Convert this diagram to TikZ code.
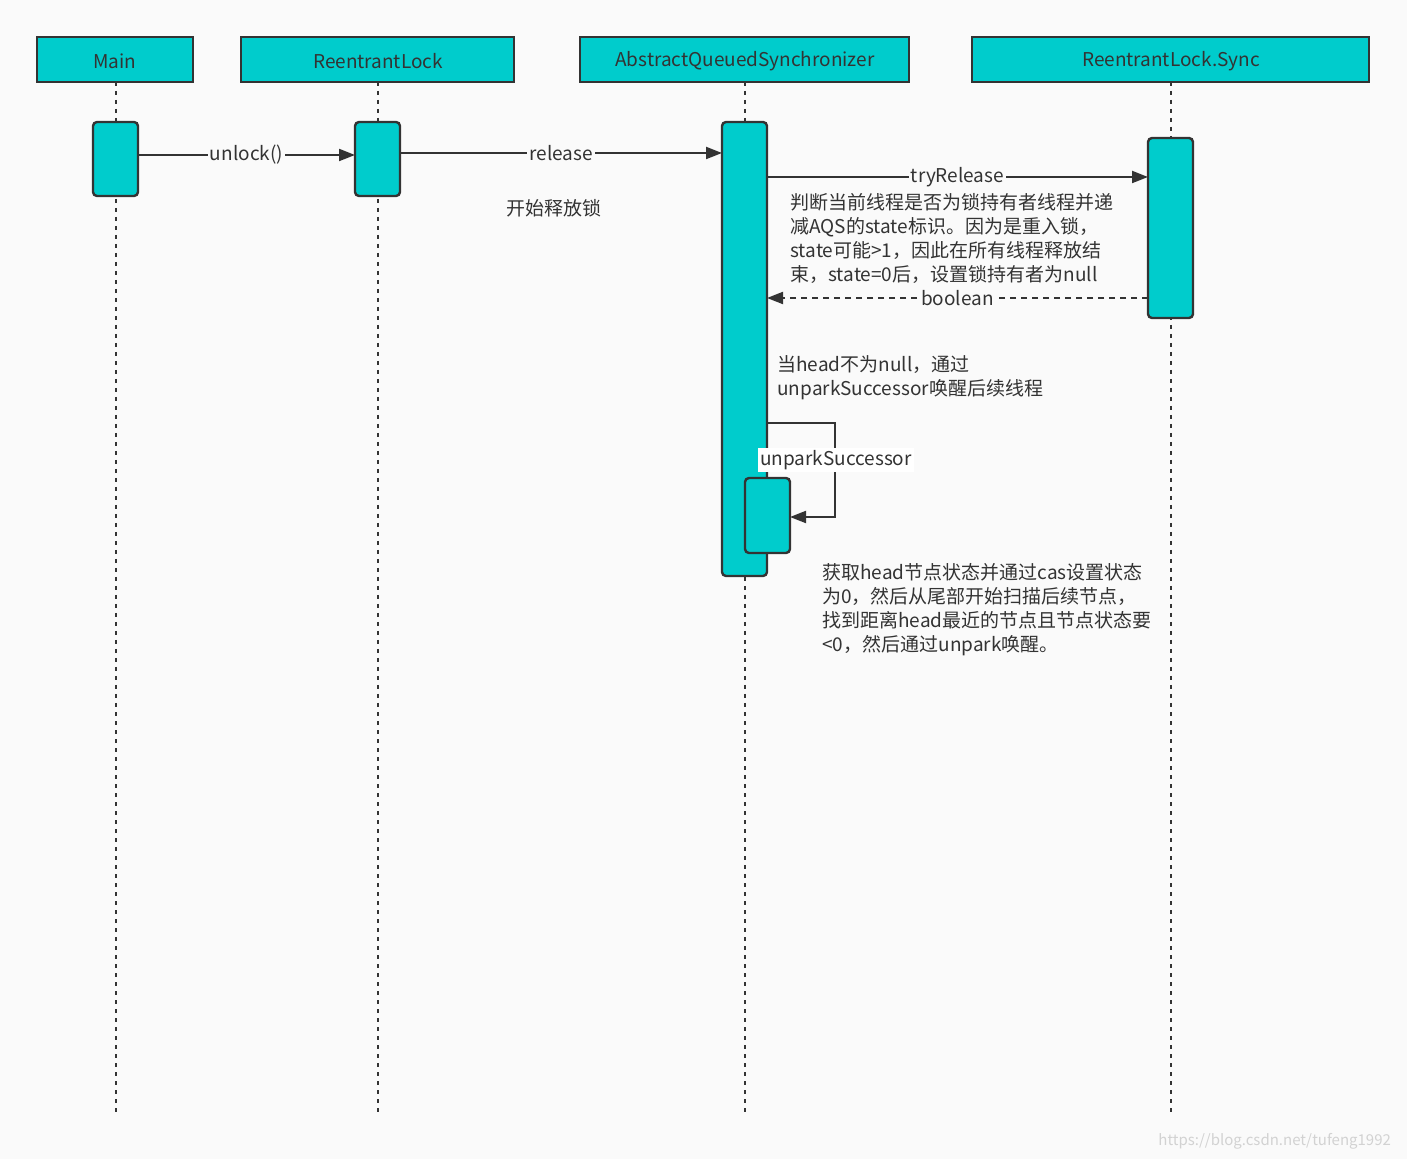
\documentclass[tikz,border=0pt]{standalone}
\usepackage{fontspec}
\setmainfont{Noto Sans CJK SC}
\usetikzlibrary{arrows.meta}
\definecolor{bg}{HTML}{FAFAFA}
\definecolor{teal}{HTML}{00CCCC}
\definecolor{dk}{HTML}{333333}
\begin{document}
\begin{tikzpicture}[x=0.5pt,y=-0.5pt,font=\fontsize{9.5pt}{12pt}\selectfont,text=dk,
  hdr/.style={draw=dk,line width=1.2pt,fill=teal,inner sep=0pt},
  act/.style={draw=dk,line width=1.2pt,fill=teal,rounded corners=2pt},
  life/.style={dk,line width=1.2pt,dash pattern=on 2pt off 2.5pt},
  msg/.style={dk,line width=1pt,-{Triangle[length=8pt,width=6pt]}},
  lbl/.style={fill=bg,inner sep=1pt},
  note/.style={align=left,anchor=north west,inner sep=0pt,font=\fontsize{9.5pt}{12pt}\selectfont}]
\fill[bg] (0,0) rectangle (1407,1159);
\useasboundingbox (0,0) rectangle (1407,1159);
% lifelines
\foreach \x in {116,378,745,1171} \draw[life] (\x,82) -- (\x,1115);
% headers
\draw[hdr] (37,37) rectangle (193,82); \node at (115,61) {Main};
\draw[hdr] (241,37) rectangle (514,82); \node at (378,61) {ReentrantLock};
\draw[hdr] (580,37) rectangle (909,82); \node at (745,61) {AbstractQueuedSynchronizer};
\draw[hdr] (972,37) rectangle (1369,82); \node at (1171,61) {ReentrantLock.Sync};
% activations
\draw[act] (93,122) rectangle (138,196);
\draw[act] (355,122) rectangle (400,196);
\draw[act] (722,122) rectangle (767,576);
\draw[act] (1148,138) rectangle (1193,318);
\coordinate (m) at (138,155); \coordinate (rl) at (355,155);
\coordinate (rl2) at (400,153); \coordinate (aq) at (722,153);
\coordinate (aq2) at (767,177); \coordinate (sy) at (1148,177);
\coordinate (sy2) at (1148,298); \coordinate (aq3) at (767,298);
\draw[msg] (m) -- node[lbl]{unlock()} (rl);
\draw[msg] (rl2) -- node[lbl,pos=0.5]{release} (aq);
\draw[msg] (aq2) -- node[lbl]{tryRelease} (sy);
\draw[msg,dash pattern=on 3pt off 2.5pt] (sy2) -- node[lbl]{boolean} (aq3);
% self call
\coordinate (s1) at (767,423); \coordinate (s2) at (790,517);
\draw[msg] (s1) -- (835,423) -- (835,517) -- (s2);
\node[fill=white,inner sep=1pt] at (836,460) {unparkSuccessor};
\draw[act] (745,478) rectangle (790,553);
% texts
\node at (554,208) {开始释放锁};
\node[note] at (790,193) {判断当前线程是否为锁持有者线程并递\\减AQS的state标识。因为是重入锁，\\state可能>1，因此在所有线程释放结\\束，state=0后，设置锁持有者为null};
\node[note] at (777,355) {当head不为null，通过\\unparkSuccessor唤醒后续线程};
\node[note] at (822,563) {获取head节点状态并通过cas设置状态\\为0，然后从尾部开始扫描后续节点，\\找到距离head最近的节点且节点状态要\\<0，然后通过unpark唤醒。};
\node[text=gray!35,font=\fontsize{7.5pt}{9pt}\selectfont,anchor=east] at (1398,1141) {https://blog.csdn.net/tufeng1992};
\end{tikzpicture}
\end{document}
